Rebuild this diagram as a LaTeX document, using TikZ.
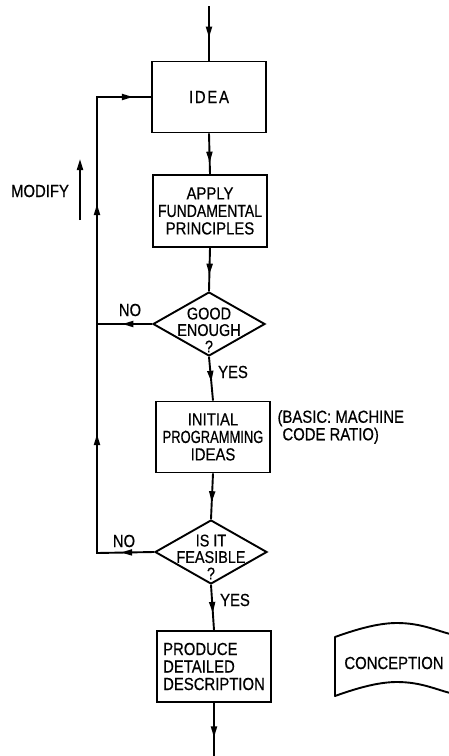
\documentclass[tikz,border=0pt]{standalone}
\usepackage{fontspec}
\newfontfamily\hand{Liberation Sans}[FakeStretch=0.85,FakeBold=0.5]
\usetikzlibrary{arrows.meta,decorations.markings,shapes.geometric}

\newcommand{\flowtip}{\arrow{Triangle[length=11pt,width=6pt]}}

\tikzset{
  every node/.style={font=\hand\fontsize{17.5}{17.5}\selectfont},
  line/.style={line width=1.9pt},
  stepbox/.style={draw, line width=1.9pt, minimum width=114pt, minimum height=71pt,
    inner sep=0pt, align=center},
  decision/.style={draw, diamond, line width=1.9pt, minimum width=112pt,
    minimum height=64pt, inner sep=0pt},
  qtext/.style={align=center, font=\hand\fontsize{17}{16.5}\selectfont},
  arr/.style={postaction={decorate,decoration={markings,
    mark=at position #1 with {\flowtip}}}},
}

\begin{document}
\begin{tikzpicture}[x=1pt,y=-1pt]
\useasboundingbox (0,0) rectangle (448,756);

% process steps
\node[stepbox] (idea) at (209,97) {\addfontfeature{LetterSpace=10}IDEA};
\node[stepbox, minimum height=72pt] (apply) at (210,211)
  {APPLY\\\addfontfeature{FakeStretch=0.8}FUNDAMENTAL\\PRINCIPLES};
\node[decision] (q1) at (209,324) {};
\node[qtext] at ([yshift=-6pt]q1.center) {GOOD\\ENOUGH\\?};
\node[stepbox] (init) at (213,437)
  {INITIAL\\\addfontfeature{FakeStretch=0.74}PROGRAMMING\\IDEAS};
\node[decision] (q2) at (211,552) {};
\node[qtext] at ([yshift=-5pt]q2.center) {IS IT\\FEASIBLE\\?};
\node[stepbox, align=left] (prod) at (214,666.5)
  {PRODUCE\\DETAILED\\DESCRIPTION};

% free ends and corners
\coordinate (in) at (209,6);
\coordinate (out) at (214,756);
\coordinate (j1) at (97,324);
\coordinate (c2) at (97,553);
\coordinate (c0) at (97,97);

% main flow
\draw[line, arr=0.58] (in) -- (idea.north);
\draw[line, arr=0.72] (idea.south) -- (apply.north);
\draw[line, arr=0.62] (apply.south) -- (q1.north);
\draw[line, arr=0.57] (q1.south) -- (init.north);
\draw[line, arr=0.63] (init.south) -- (q2.north);
\draw[line, arr=0.62] (q2.south) -- (prod.north);
\draw[line, arr=0.65] (prod.south) -- (out);

% feedback loop
\draw[line, arr=0.54] (q1.west) -- (j1);
\draw[line, postaction={decorate,decoration={markings,
    mark=at position 33pt with {\flowtip},
    mark=at position 176pt with {\flowtip},
    mark=at position 406pt with {\flowtip},
    mark=at position 549pt with {\flowtip}}}]
  (q2.west) -- (c2) -- (c0) -- (idea.west);

% labels
\node at (130,310) {NO};
\node at (124,541) {NO};
\node at (233,372) {YES};
\node at (235,600) {YES};
\node (mod) at (40,191) {MODIFY};
\coordinate (m1) at (80,220);
\coordinate (m2) at (80,159);
\draw[line, -{Triangle[length=11pt,width=6pt]}] (m1) -- (m2);
\node[anchor=west, align=left] (basic) at (274,427)
  {(BASIC: MACHINE\\\phantom{(}CODE RATIO)};

% punched-tape style annotation
\draw[line, line join=round]
  (450,634) .. controls (435,630) and (420,623) .. (397,623)
  .. controls (380,623) and (360,628) .. (335,637)
  -- (335,696)
  .. controls (360,687) and (380,682) .. (397,682)
  .. controls (420,682) and (435,689) .. (450,693);
\node (conc) at (394,663) {CONCEPTION};
\end{tikzpicture}
\end{document}
